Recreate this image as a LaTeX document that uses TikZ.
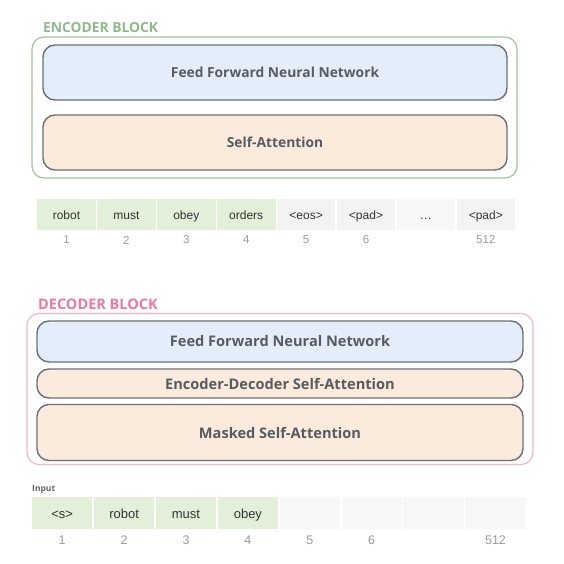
\documentclass[tikz,border=0pt]{standalone}
\usepackage{fontspec}
\setmainfont{Liberation Sans}
\newfontfamily\blockfont{Open Sans}
\definecolor{encgreen}{HTML}{9CC59A}
\definecolor{enctitle}{HTML}{8DBA8A}
\definecolor{decpink}{HTML}{F5B3CB}
\definecolor{dectitle}{HTML}{F0789F}
\definecolor{ffblue}{HTML}{E4EEFB}
\definecolor{attpeach}{HTML}{FBEBDD}
\definecolor{boxedge}{HTML}{6B6F76}
\definecolor{boxtext}{HTML}{585B61}
\definecolor{tokgreen}{HTML}{E2F0D9}
\definecolor{tokgrey}{HTML}{F3F3F3}
\definecolor{numgrey}{HTML}{9A9A9A}
\tikzset{
  outerbox/.style={draw, rounded corners=12pt, line width=1.2pt, fill=white, inner sep=0pt},
  layerbox/.style={draw=boxedge, rounded corners=12pt, line width=1.4pt, inner sep=0pt,
     font=\blockfont\bfseries\fontsize{13.8}{16}\selectfont, text=boxtext},
  declayer/.style={layerbox, font=\blockfont\bfseries\fontsize{14.6}{17}\selectfont},
  blocktitle/.style={font=\blockfont\bfseries\fontsize{13.8}{16}\selectfont, anchor=west, inner sep=0pt},
  tok/.style={inner sep=0pt, font=\fontsize{12}{14}\selectfont, text=black!80, text height=10.5pt, text depth=0.5pt},
  dtok/.style={inner sep=0pt, font=\fontsize{13}{15}\selectfont, text=black!80, text height=10.5pt, text depth=0.5pt},
  num/.style={inner sep=0pt, font=\fontsize{11.5}{13}\selectfont, text=numgrey},
  dnum/.style={inner sep=0pt, font=\fontsize{12.5}{14}\selectfont, text=numgrey},
}
\begin{document}
\begin{tikzpicture}[x=1pt,y=-1pt]
\useasboundingbox (0,0) rectangle (563,564);
% Encoder
\node[blocktitle, text=enctitle] (enctitle) at (43,28) {ENCODER BLOCK};
\node[outerbox, draw=encgreen, minimum width=485pt, minimum height=141pt] (enc) at (274.5,107.5) {};
\node[layerbox, fill=ffblue, minimum width=464pt, minimum height=55pt] (encff) at (275,72.5) {Feed Forward Neural Network};
\node[layerbox, fill=attpeach, minimum width=464pt, minimum height=55pt] (encsa) at (275,142.5) {Self-Attention};
% Encoder tokens
\foreach \i/\t/\c in {0/robot/tokgreen,1/must/tokgreen,2/obey/tokgreen,3/orders/tokgreen,4/<eos>/tokgrey,5/<pad>/tokgrey,6/{\ldots}/tokgrey!60,7/<pad>/tokgrey}{
  \node[tok, fill=\c, minimum width=58.6pt, minimum height=31pt] (et\i) at (66.5+59.9*\i,214.5) {\t};
}
\foreach \i/\n in {0/1,1/2,2/3,3/4,4/5,5/6,7/512}{
  \node[num] (en\i) at (66.5+59.9*\i,240) {\n};
}
% Decoder
\node[blocktitle, text=dectitle, font=\blockfont\bfseries\fontsize{14.5}{17}\selectfont] (dectitle) at (38,304) {DECODER BLOCK};
\node[outerbox, draw=decpink, minimum width=506pt, minimum height=151pt] (dec) at (280,389) {};
\node[declayer, fill=ffblue, minimum width=486pt, minimum height=41pt] (decff) at (280,341.5) {Feed Forward Neural Network};
\node[declayer, fill=attpeach, minimum width=486pt, minimum height=29pt] (decedsa) at (280,383.5) {Encoder-Decoder Self-Attention};
\node[declayer, fill=attpeach, minimum width=486pt, minimum height=56pt] (decmsa) at (280,432.5) {Masked Self-Attention};
% Decoder input
\node[anchor=west, inner sep=0pt, font=\blockfont\bfseries\fontsize{8.5}{10}\selectfont, text=black!60] (inputlbl) at (32,489) {Input};
\foreach \i/\t/\c in {0/<s>/tokgreen,1/robot/tokgreen,2/must/tokgreen,3/obey/tokgreen,4/{}/tokgrey!70,5/{}/tokgrey!70,6/{}/tokgrey!70,7/{}/tokgrey!70}{
  \node[dtok, fill=\c, minimum width=60.4pt, minimum height=32pt] (dt\i) at (62.2+61.9*\i,513) {\t};
}
\foreach \i/\n in {0/1,1/2,2/3,3/4,4/5,5/6,7/512}{
  \node[dnum] (dn\i) at (62.2+61.9*\i,540) {\n};
}
\end{tikzpicture}
\end{document}
